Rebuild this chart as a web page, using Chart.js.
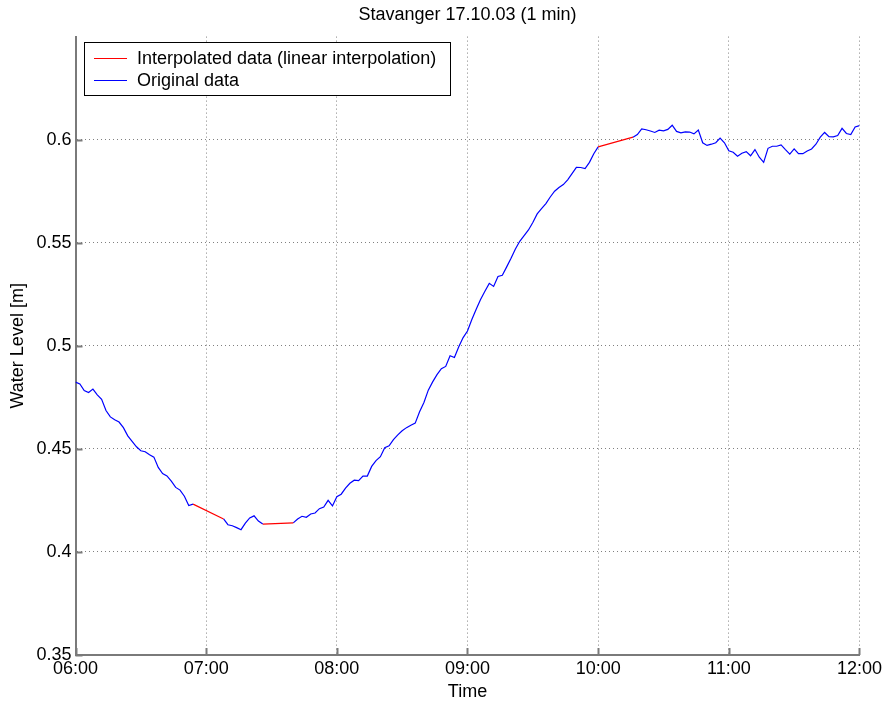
<!DOCTYPE html>
<html>
<head>
<meta charset="utf-8">
<title>Stavanger 17.10.03 (1 min)</title>
<script src="https://cdn.jsdelivr.net/npm/chart.js@4.4.1/dist/chart.umd.min.js"></script>
<style>
  html, body { margin: 0; padding: 0; background: #ffffff; }
  #wrap { width: 885px; height: 704px; }
</style>
</head>
<body>
<div id="wrap"><canvas id="chart" width="885" height="704"></canvas></div>
<script>
// Water level at Stavanger, 17.10.03, 06:00-12:00, one value every 2 minutes.
// null = minutes with no original record (filled by the interpolated series).
const stepMinutes = 2;
const waterLevel = [
  // 06:00 - 06:58
  0.4824, 0.4815, 0.4783, 0.4773, 0.4790, 0.4762, 0.4740, 0.4686, 0.4655, 0.4641,
  0.4630, 0.4603, 0.4563, 0.4536, 0.4510, 0.4491, 0.4486, 0.4471, 0.4460, 0.4410,
  0.4380, 0.4369, 0.4343, 0.4313, 0.4300, 0.4270, 0.4225, 0.4232, null,   null,
  // 07:00 - 07:58
  null,   null,   null,   null,   0.4160, 0.4132, 0.4127, 0.4118, 0.4108, 0.4140,
  0.4165, 0.4175, 0.4150, 0.4135, null,   null,   null,   null,   null,   null,
  0.4141, 0.4160, 0.4173, 0.4168, 0.4184, 0.4189, 0.4210, 0.4218, 0.4250, 0.4223,
  // 08:00 - 08:58
  0.4268, 0.4280, 0.4310, 0.4333, 0.4348, 0.4346, 0.4368, 0.4368, 0.4415, 0.4443,
  0.4462, 0.4506, 0.4515, 0.4545, 0.4568, 0.4588, 0.4603, 0.4615, 0.4625, 0.4680,
  0.4725, 0.4785, 0.4825, 0.4860, 0.4889, 0.4900, 0.4952, 0.4943, 0.4995, 0.5040,
  // 09:00 - 09:58
  0.5072, 0.5128, 0.5177, 0.5225, 0.5265, 0.5303, 0.5288, 0.5336, 0.5342, 0.5383,
  0.5425, 0.5470, 0.5507, 0.5535, 0.5562, 0.5598, 0.5640, 0.5665, 0.5690, 0.5722,
  0.5750, 0.5768, 0.5782, 0.5805, 0.5835, 0.5866, 0.5865, 0.5860, 0.5890, 0.5932,
  // 10:00 - 10:58
  0.5965, null,   null,   null,   null,   null,   null,   null,   0.6012, 0.6025,
  0.6052, 0.6048, 0.6042, 0.6035, 0.6046, 0.6043, 0.6050, 0.6070, 0.6040, 0.6033,
  0.6038, 0.6037, 0.6028, 0.6047, 0.5985, 0.5972, 0.5978, 0.5985, 0.6008, 0.5985,
  // 11:00 - 11:58
  0.5946, 0.5939, 0.5920, 0.5934, 0.5942, 0.5922, 0.5952, 0.5915, 0.5890, 0.5958,
  0.5968, 0.5968, 0.5975, 0.5952, 0.5930, 0.5955, 0.5932, 0.5932, 0.5945, 0.5955,
  0.5978, 0.6012, 0.6035, 0.6015, 0.6014, 0.6020, 0.6055, 0.6030, 0.6025, 0.6062,
  // 12:00
  0.6068
];

// Gaps bridged by linear interpolation (minutes after 06:00)
const gapStart = [54, 86, 240];
const gapEnd   = [68, 100, 256];

// Axis ticks
const hourMinutes = [0, 60, 120, 180, 240, 300, 360];
const hourLabels  = ['06:00', '07:00', '08:00', '09:00', '10:00', '11:00', '12:00'];
const levelTicks  = [0.35, 0.40, 0.45, 0.50, 0.55, 0.60];
const levelLabels = ['0.35', '0.4', '0.45', '0.5', '0.55', '0.6'];

const chartTitle = 'Stavanger 17.10.03 (1 min)';
const xTitle = 'Time';
const yTitle = 'Water Level [m]';
const seriesNames = ['Interpolated data (linear interpolation)', 'Original data'];

// ---- datasets built from the arrays above ----
const levelAt = m => waterLevel[m / stepMinutes];
const originalPoints = waterLevel.map((v, i) => ({ x: i * stepMinutes, y: v }));
const interpolatedPoints = [];
gapStart.forEach((a, k) => {
  const b = gapEnd[k];
  interpolatedPoints.push({ x: a, y: levelAt(a) }, { x: b, y: levelAt(b) }, { x: b, y: null });
});

const FONT = { family: "'Liberation Sans', Arial, Helvetica, sans-serif", size: 18, weight: 'normal' };
const AXIS_COLOR = '#7a7a7a';
const GRID_COLOR = '#808080';

// inward tick marks on the left and bottom axes
const innerTicks = {
  id: 'innerTicks',
  afterDraw(chart) {
    const { ctx, chartArea: a, scales: { x, y } } = chart;
    ctx.save();
    ctx.strokeStyle = AXIS_COLOR;
    ctx.lineWidth = 2;
    ctx.beginPath();
    levelTicks.forEach(v => {
      const py = Math.round(y.getPixelForValue(v)) + 0.5;
      ctx.moveTo(a.left, py); ctx.lineTo(a.left + 7, py);
    });
    hourMinutes.forEach(v => {
      const px = Math.round(x.getPixelForValue(v)) + 0.5;
      ctx.moveTo(px, a.bottom); ctx.lineTo(px, a.bottom - 7);
    });
    ctx.stroke();
    ctx.restore();
  }
};

// boxed legend in the upper-left corner of the plot
const boxLegend = {
  id: 'boxLegend',
  afterDraw(chart) {
    const { ctx } = chart;
    const bx = 84, by = 42, bw = 366, bh = 53;
    ctx.save();
    ctx.fillStyle = '#ffffff';
    ctx.fillRect(bx, by, bw, bh);
    ctx.strokeStyle = '#000000';
    ctx.lineWidth = 1;
    ctx.strokeRect(bx + 0.5, by + 0.5, bw, bh);
    ctx.font = `${FONT.size}px ${FONT.family}`;
    ctx.textBaseline = 'middle';
    ctx.textAlign = 'left';
    chart.data.datasets.forEach((ds, i) => {
      const ry = by + 16 + i * 22;
      ctx.strokeStyle = ds.borderColor;
      ctx.lineWidth = 1.2;
      ctx.beginPath();
      ctx.moveTo(94, ry + 0.5); ctx.lineTo(127, ry + 0.5);
      ctx.stroke();
      ctx.fillStyle = '#000000';
      ctx.fillText(ds.label, 137, ry + 1);
    });
    ctx.restore();
  }
};

new Chart(document.getElementById('chart'), {
  type: 'line',
  data: {
    datasets: [
      {
        label: seriesNames[0],
        data: interpolatedPoints,
        borderColor: '#ff0000',
        borderWidth: 1.2,
        pointRadius: 0,
        tension: 0,
        spanGaps: false,
        order: 1
      },
      {
        label: seriesNames[1],
        data: originalPoints,
        borderColor: '#0000ff',
        borderWidth: 1.2,
        pointRadius: 0,
        tension: 0,
        spanGaps: false,
        order: 2
      }
    ]
  },
  options: {
    responsive: false,
    animation: false,
    devicePixelRatio: 1,
    layout: { padding: { top: 0, right: 25, bottom: 0, left: 0 } },
    plugins: {
      legend: { display: false },
      tooltip: { enabled: false },
      title: {
        display: true,
        text: chartTitle,
        fullSize: false,
        color: '#000000',
        font: FONT,
        padding: { top: 4, bottom: 11 }
      }
    },
    scales: {
      x: {
        type: 'linear',
        min: 0,
        max: 360,
        afterBuildTicks: s => { s.ticks = hourMinutes.map(v => ({ value: v })); },
        afterFit: s => { s.height = 49; },
        ticks: {
          autoSkip: false,
          maxRotation: 0,
          color: '#000000',
          font: FONT,
          padding: 3,
          callback: (v) => hourLabels[hourMinutes.indexOf(v)]
        },
        grid: { color: GRID_COLOR, lineWidth: 1, drawTicks: false },
        border: { display: true, color: AXIS_COLOR, width: 2, dash: [1, 3] },
        title: { display: true, text: xTitle, color: '#000000', font: FONT, padding: { top: 0, bottom: 1 } }
      },
      y: {
        type: 'linear',
        min: 0.35,
        max: 0.65,
        afterBuildTicks: s => { s.ticks = levelTicks.map(v => ({ value: v })); },
        afterFit: s => { s.width = 75.5; },
        ticks: {
          color: '#000000',
          font: FONT,
          padding: 4,
          callback: (v) => levelLabels[levelTicks.findIndex(t => Math.abs(t - v) < 1e-9)]
        },
        grid: { color: GRID_COLOR, lineWidth: 1, drawTicks: false },
        border: { display: true, color: AXIS_COLOR, width: 2, dash: [1, 3] },
        title: { display: true, text: yTitle, color: '#000000', font: FONT, padding: { top: 7, bottom: 0 } }
      }
    }
  },
  plugins: [innerTicks, boxLegend]
});
</script>
</body>
</html>
